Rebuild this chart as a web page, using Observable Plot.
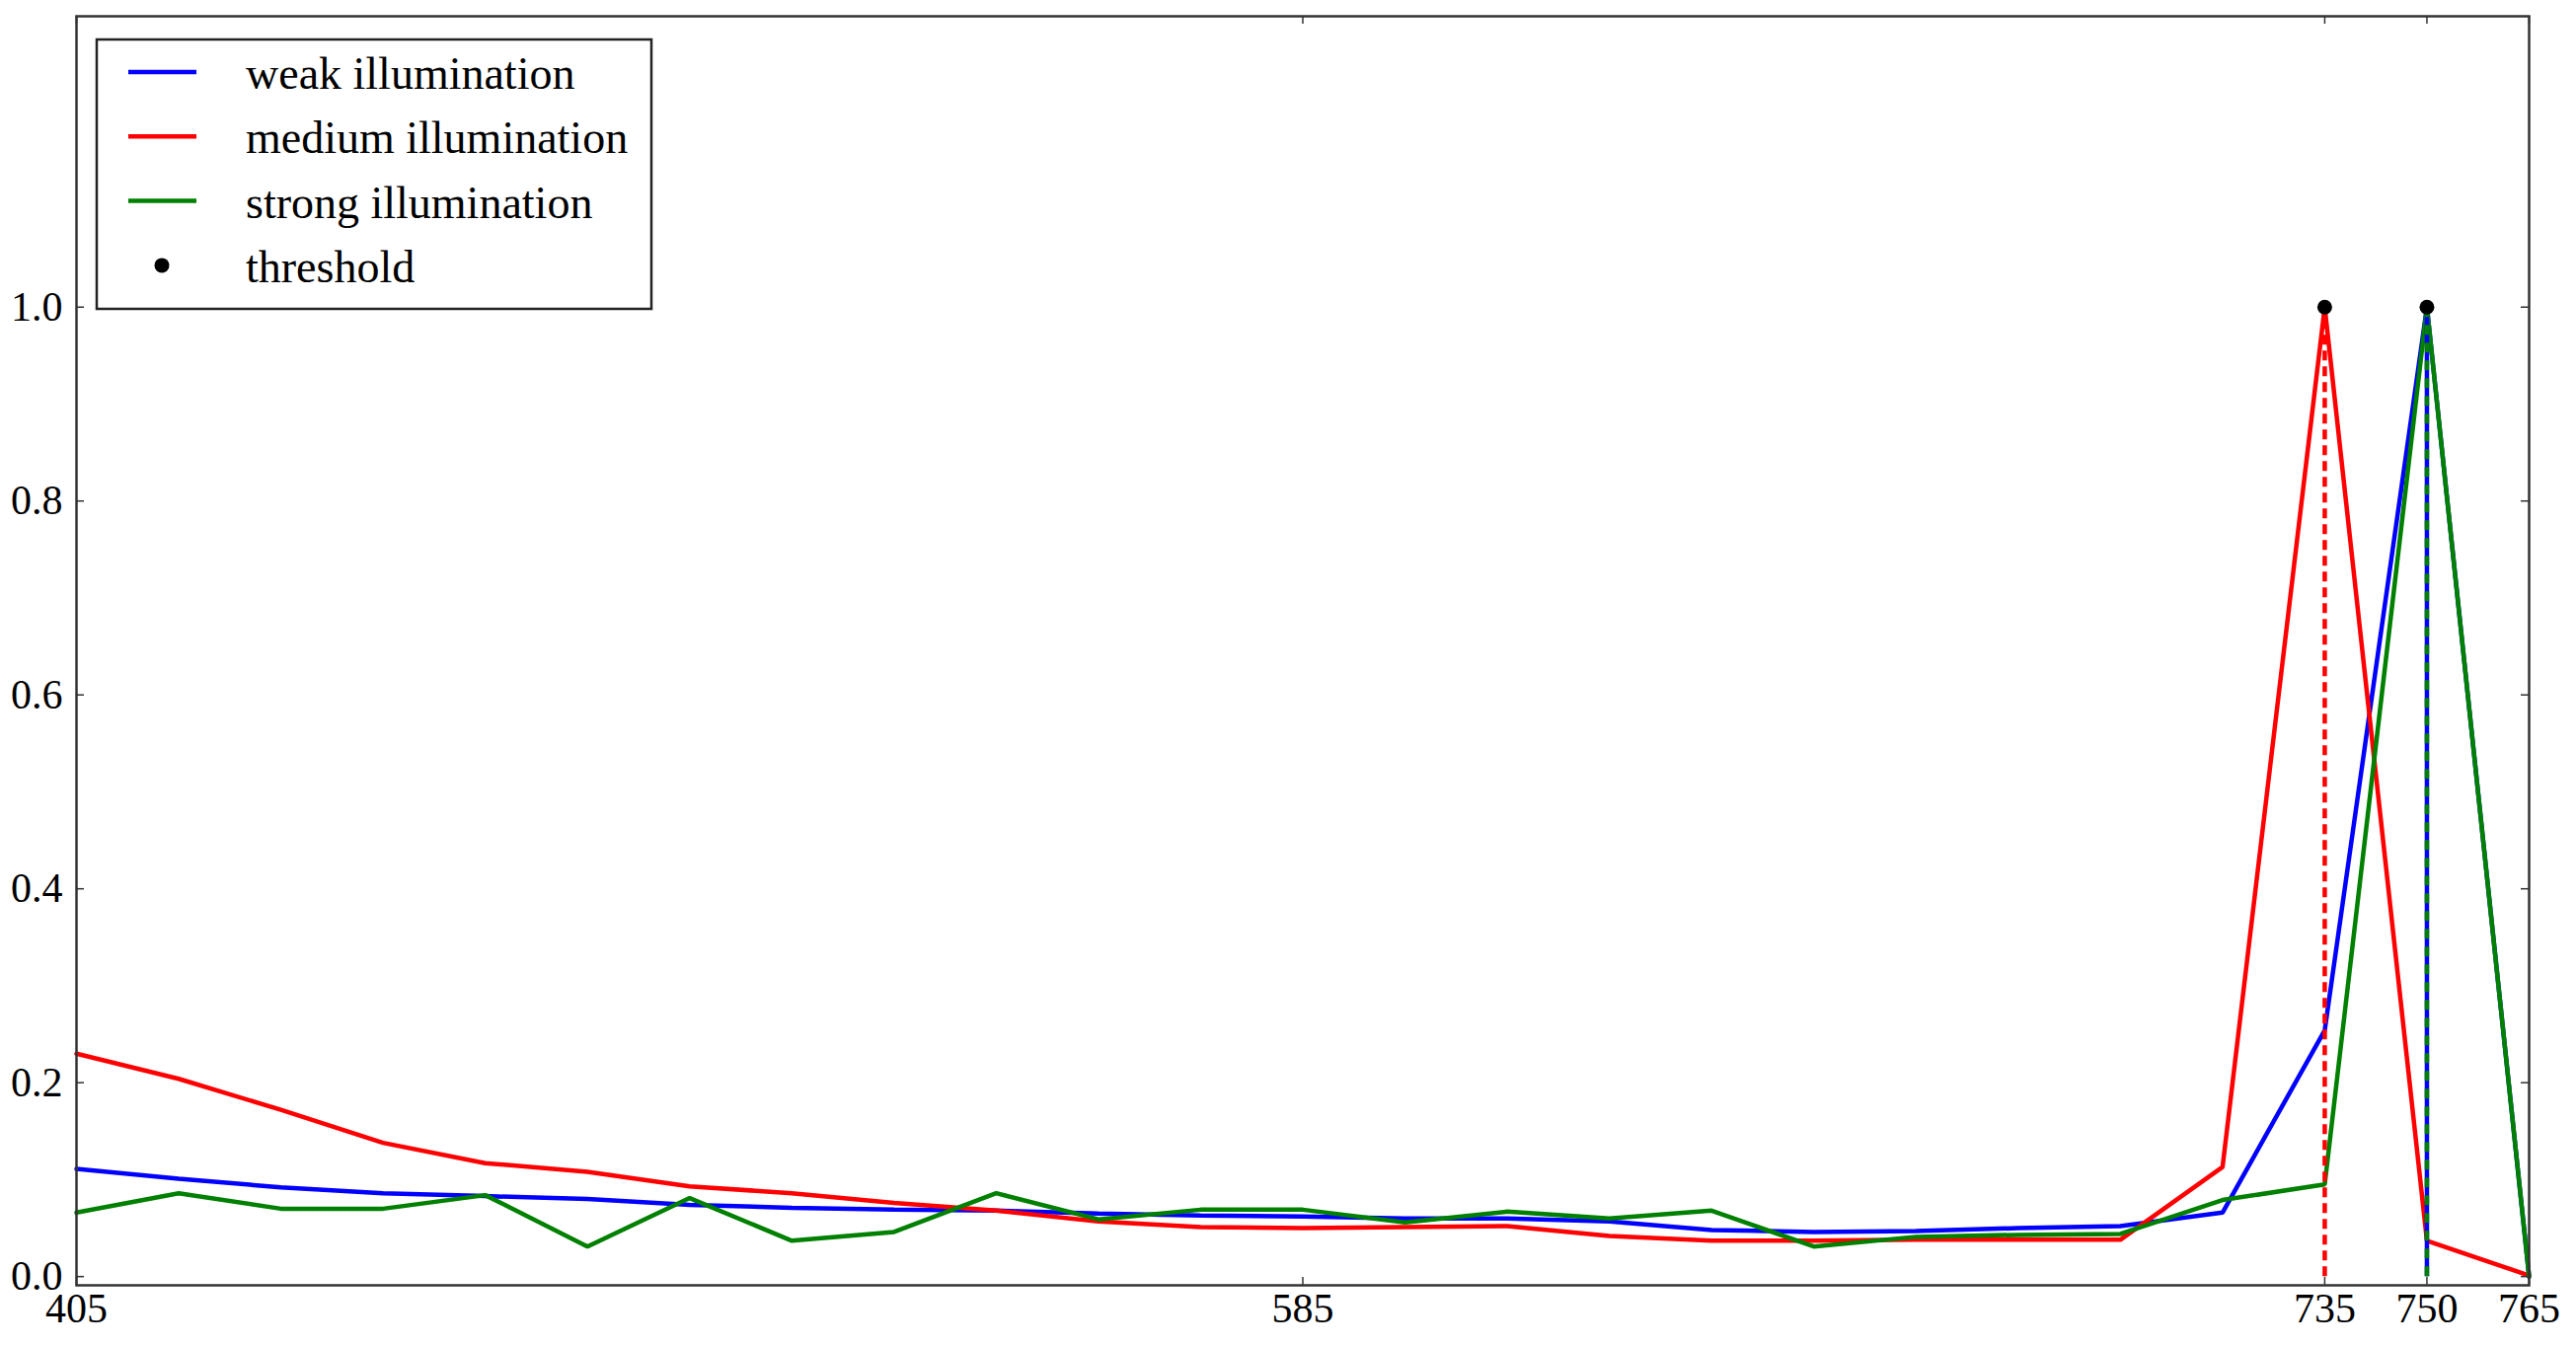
<!DOCTYPE html>
<html><head><meta charset="utf-8">
<script src="https://cdn.jsdelivr.net/npm/d3@7"></script>
<script src="https://cdn.jsdelivr.net/npm/@observablehq/plot@0.6"></script>
<style>
html,body{margin:0;padding:0;background:#fff;}
#chart{position:relative;width:2610px;height:1364px;}
</style></head><body><div id="chart"></div>
<script>
// ---- data ----
const wavelengths = [405, 420, 435, 450, 465, 480, 495, 510, 525, 540, 555, 570, 585, 600, 615, 630, 645, 660, 675, 690, 705, 720, 735, 750, 765];
const weak   = [0.111, 0.101, 0.092, 0.086, 0.083, 0.080, 0.074, 0.071, 0.069, 0.068, 0.065, 0.063, 0.062, 0.060, 0.060, 0.057, 0.048, 0.046, 0.047, 0.050, 0.052, 0.066, 0.254, 1.0, 0.0];
const medium = [0.230, 0.204, 0.172, 0.138, 0.117, 0.108, 0.093, 0.086, 0.076, 0.068, 0.057, 0.051, 0.050, 0.051, 0.052, 0.042, 0.037, 0.037, 0.038, 0.038, 0.038, 0.113, 1.0, 0.037, 0.001];
const strong = [0.066, 0.086, 0.070, 0.070, 0.084, 0.031, 0.081, 0.037, 0.046, 0.086, 0.059, 0.069, 0.069, 0.056, 0.067, 0.060, 0.068, 0.031, 0.041, 0.043, 0.044, 0.079, 0.095, 1.0, 0.0];
const seriesNames = ["weak illumination", "medium illumination", "strong illumination"];
const seriesColors = ["#0000ff", "#ff0000", "#008000"];
const thresholdX = [735, 750];
const thresholdY = [1.0, 1.0];
const thresholdLabel = "threshold";
const xTicks = [405, 585, 735, 750, 765];
const yTicks = [0.0, 0.2, 0.4, 0.6, 0.8, 1.0];

// ---- build tables ----
const rows = [];
[weak, medium, strong].forEach((vals, s) =>
  vals.forEach((v, i) => rows.push({series: seriesNames[s], x: wavelengths[i], y: v})));
const dropsMedium = [{x: thresholdX[0], y: thresholdY[0]}];
const dropsWeak   = [{x: thresholdX[1], y: thresholdY[1]}];
const dropsStrong = [{x: thresholdX[1], y: thresholdY[1]}];
const dots = thresholdX.map((x, i) => ({x, y: thresholdY[i]}));

const W = 2610, H = 1364, mL = 77, mR = 48, mT = 16, mB = 62;
const innerW = W - mL - mR, innerH = H - mT - mB;
const tickLen = 8;
const axisColor = "#333";
const fontFamily = '"Liberation Serif", "Times New Roman", serif';

const chart = Plot.plot({
  width: W, height: H,
  marginLeft: mL, marginRight: mR, marginTop: mT, marginBottom: mB,
  style: {fontFamily, fontSize: "40px", color: "#000", background: "#fff"},
  x: {domain: [405, 765], label: null},
  y: {domain: [-0.009, 1.3], label: null},
  color: {domain: seriesNames, range: seriesColors},
  marks: [
    Plot.line(rows, {x: "x", y: "y", z: "series", stroke: "series", strokeWidth: 4.5, strokeLinejoin: "miter"}),
    Plot.ruleX(dropsMedium, {x: "x", y1: 0, y2: "y", stroke: seriesColors[1], strokeWidth: 4.5, strokeDasharray: "10,6"}),
    Plot.ruleX(dropsWeak,   {x: "x", y1: 0, y2: "y", stroke: seriesColors[0], strokeWidth: 4.5}),
    Plot.ruleX(dropsStrong, {x: "x", y1: 0, y2: "y", stroke: seriesColors[2], strokeWidth: 4.5, strokeDasharray: "10,8"}),
    Plot.dot(dots, {x: "x", y: "y", r: 7.5, fill: "#000", stroke: "none"}),
    Plot.frame({stroke: axisColor, strokeWidth: 2.5}),
    Plot.tickX(xTicks, {x: d => d, insetTop: innerH - tickLen, stroke: axisColor, strokeWidth: 1.5}),
    Plot.tickX(xTicks, {x: d => d, insetBottom: innerH - tickLen, stroke: axisColor, strokeWidth: 1.5}),
    Plot.tickY(yTicks, {y: d => d, insetRight: innerW - tickLen, stroke: axisColor, strokeWidth: 1.5}),
    Plot.tickY(yTicks, {y: d => d, insetLeft: innerW - tickLen, stroke: axisColor, strokeWidth: 1.5}),
    Plot.axisX(xTicks, {anchor: "bottom", tickSize: 0, tickPadding: 8, fontSize: 42, fill: "#000", label: null}),
    Plot.axisY(yTicks, {anchor: "left", tickSize: 0, tickPadding: 14, fontSize: 42, fill: "#000", label: null, tickFormat: d3.format(".1f")})
  ]
});
document.getElementById("chart").appendChild(chart);

// ---- legend ----
const svg = d3.select(chart);
const lg = svg.append("g").attr("font-family", fontFamily).attr("font-size", 46).attr("text-anchor", "start");
lg.append("rect").attr("x", 98).attr("y", 40).attr("width", 562).attr("height", 273)
  .attr("fill", "#fff").attr("stroke", "#222").attr("stroke-width", 2.5);
const legendItems = seriesNames.map((n, i) => ({label: n, color: seriesColors[i], type: "line"}))
  .concat([{label: thresholdLabel, color: "#000", type: "dot"}]);
legendItems.forEach((it, i) => {
  const cy = 73 + i * 65.3;
  if (it.type === "line") {
    lg.append("line").attr("x1", 130).attr("x2", 199).attr("y1", cy).attr("y2", cy)
      .attr("stroke", it.color).attr("stroke-width", 4.5);
  } else {
    lg.append("circle").attr("cx", 164).attr("cy", cy).attr("r", 7.5).attr("fill", it.color);
  }
  lg.append("text").attr("x", 249).attr("y", cy + 17).attr("text-anchor", "start").attr("fill", "#000").text(it.label);
});
</script>
</body></html>
